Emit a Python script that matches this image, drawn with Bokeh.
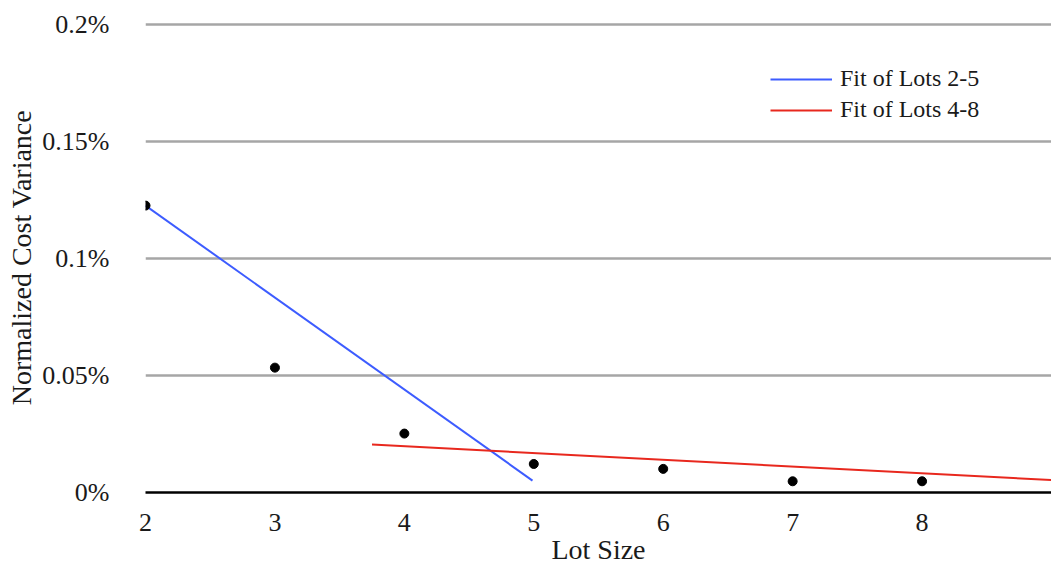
from bokeh.plotting import figure
from bokeh.models import FixedTicker, Legend, LegendItem, ColumnDataSource
from bokeh.embed import file_html
from bokeh.resources import INLINE

# Data (y values in percent)
lot_size = [2, 3, 4, 5, 6, 7, 8]
cost_variance = [0.1227, 0.0534, 0.0252, 0.0122, 0.0101, 0.0048, 0.0048]

fit_2_5_x = [2.0, 4.99]
fit_2_5_y = [0.1227, 0.0051]
fit_4_8_x = [3.75, 9.0]
fit_4_8_y = [0.0205, 0.0053]

y_ticks = [0, 0.05, 0.1, 0.15, 0.2]
y_tick_labels = ["0%", "0.05%", "0.1%", "0.15%", "0.2%"]
x_ticks = [2, 3, 4, 5, 6, 7, 8]
x_title = "Lot Size"
y_title = "Normalized Cost Variance"

FONT = "Liberation Serif"

p = figure(width=1051, height=568, output_backend="svg", toolbar_location=None,
           x_range=(2, 9), y_range=(0, 0.201),
           min_border_left=145, min_border_right=0, min_border_top=22, min_border_bottom=76)
p.outline_line_color = None
p.background_fill_color = "white"
p.border_fill_color = "white"

# grid
p.xgrid.visible = False
p.ygrid.ticker = FixedTicker(ticks=[0.05, 0.1, 0.15, 0.2])
p.ygrid.grid_line_color = "#a6a6a6"
p.ygrid.grid_line_width = 2.5

# axes
p.xaxis.ticker = FixedTicker(ticks=x_ticks)
p.xaxis.axis_line_color = "black"
p.xaxis.axis_line_width = 2.5
p.xaxis.major_tick_line_color = None
p.xaxis.minor_tick_line_color = None
p.xaxis.major_label_text_font = FONT
p.xaxis.major_label_text_font_size = "26px"
p.xaxis.major_label_text_color = "#1a1a1a"
p.xaxis.major_label_standoff = 15
p.xaxis.axis_label = x_title
p.xaxis.axis_label_text_font = FONT
p.xaxis.axis_label_text_font_size = "28px"
p.xaxis.axis_label_text_font_style = "normal"
p.xaxis.axis_label_text_color = "#1a1a1a"
p.xaxis.axis_label_standoff = 0

p.yaxis.ticker = FixedTicker(ticks=y_ticks)
p.yaxis.major_label_overrides = {t: l for t, l in zip(y_ticks, y_tick_labels)}
p.yaxis.axis_line_color = None
p.yaxis.major_tick_line_color = None
p.yaxis.minor_tick_line_color = None
p.yaxis.major_label_text_font = FONT
p.yaxis.major_label_text_font_size = "26px"
p.yaxis.major_label_text_color = "#1a1a1a"
p.yaxis.major_label_standoff = 30
p.yaxis.axis_label = y_title
p.yaxis.axis_label_text_font = FONT
p.yaxis.axis_label_text_font_size = "28px"
p.yaxis.axis_label_text_font_style = "normal"
p.yaxis.axis_label_text_color = "#1a1a1a"
p.yaxis.axis_label_standoff = 2

blue = p.line(fit_2_5_x, fit_2_5_y, line_color="#3d5cff", line_width=2)
red = p.line(fit_4_8_x, fit_4_8_y, line_color="#e8281e", line_width=2)

src = ColumnDataSource(dict(x=lot_size, y=cost_variance))
p.scatter("x", "y", source=src, size=9, fill_color="black", line_color="black")

legend = Legend(items=[LegendItem(label="Fit of Lots 2-5", renderers=[blue]),
                       LegendItem(label="Fit of Lots 4-8", renderers=[red])],
                location=(625, 369))
legend.background_fill_alpha = 0
legend.border_line_color = None
legend.label_text_font = FONT
legend.label_text_font_size = "24px"
legend.label_text_color = "#1a1a1a"
legend.glyph_width = 62
legend.glyph_height = 24
legend.label_height = 24
legend.spacing = 4
legend.label_standoff = 8
legend.padding = 0
legend.margin = 0
p.add_layout(legend)

open("out.html", "w").write(file_html(p, INLINE))
